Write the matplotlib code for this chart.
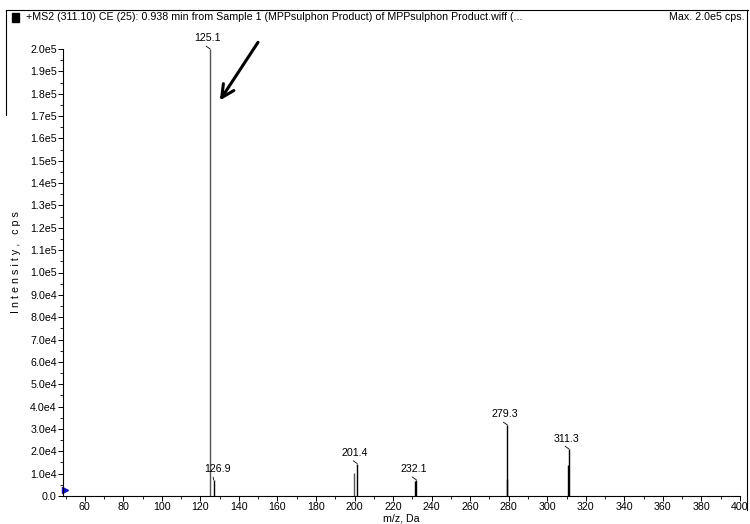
import matplotlib
matplotlib.use("Agg")
import matplotlib.pyplot as plt
from matplotlib.lines import Line2D
from matplotlib.patches import Rectangle
from matplotlib.ticker import MultipleLocator, FixedLocator, FixedFormatter

plt.rcParams["font.family"] = ["Liberation Sans", "DejaVu Sans"]

# peak list (m/z, intensity in cps)
mz = [125.1, 126.9, 199.9, 201.4, 231.6, 232.1, 278.9, 279.3, 311.0, 311.3]
intensity = [2.0e5, 7.2e3, 1.04e4, 1.45e4, 6.8e3, 7.2e3, 7.5e3, 3.18e4, 1.4e4, 2.1e4]
peak_colors = ["#555555", "black", "#555555", "black", "black", "black",
               "black", "black", "black", "black"]

labels = ["125.1", "126.9", "201.4", "232.1", "279.3", "311.3"]
label_mz = [125.1, 126.9, 201.4, 232.1, 279.3, 311.3]
label_int = [2.0e5, 7.2e3, 1.45e4, 7.2e3, 3.18e4, 2.1e4]

ytick_vals = [i * 1e4 for i in range(21)]
ytick_labels = ["0.0"] + ["%.1fe4" % i for i in range(1, 10)] + \
    ["%.1fe5" % (i / 10) for i in range(10, 21)]

title = "+MS2 (311.10) CE (25): 0.938 min from Sample 1 (MPPsulphon Product) of MPPsulphon Product.wiff (..."
fs = 7.7

fig = plt.figure(figsize=(7.5, 5.24), dpi=100)
ax = fig.add_axes([63 / 750, 1 - 496 / 524, 677 / 750, 447 / 524])

ax.vlines(mz, 0, intensity, colors=peak_colors, lw=1.0)

for lab, x, y in zip(labels, label_mz, label_int):
    dx = 3 if lab == "126.9" else -2
    ax.annotate(lab, xy=(x, y), xytext=(dx, 4), textcoords="offset points",
                ha="center", va="bottom", fontsize=fs, annotation_clip=False,
                arrowprops=dict(arrowstyle="-", lw=0.6, color="black",
                                shrinkA=0, shrinkB=0, relpos=(0.3, 0.0)))

# precursor marker at the axis edge
ax.plot([49.6], [2.5e3], marker=">", color="#1010c0", ms=4, clip_on=False)

# hand-drawn style arrow pointing at base peak
ax.annotate("", xy=(130.1, 1.77e5), xytext=(149.9, 2.03e5),
            annotation_clip=False,
            arrowprops=dict(arrowstyle="->,head_length=0.9,head_width=0.45",
                            lw=2.2, color="black", shrinkA=0, shrinkB=0))

ax.set_xlim(48.7, 400)
ax.set_ylim(0, 2.0e5)
ax.xaxis.set_major_locator(FixedLocator(list(range(60, 401, 20))))
ax.xaxis.set_minor_locator(MultipleLocator(10))
ax.yaxis.set_major_locator(FixedLocator(ytick_vals))
ax.yaxis.set_major_formatter(FixedFormatter(ytick_labels))
ax.yaxis.set_minor_locator(MultipleLocator(5e3))
ax.tick_params(which="major", direction="out", length=3.5, width=0.7,
               labelsize=fs, pad=1)
ax.tick_params(which="minor", direction="out", length=2, width=0.6)
for s in ["top", "right"]:
    ax.spines[s].set_visible(False)
for s in ["left", "bottom"]:
    ax.spines[s].set_linewidth(0.8)

ax.set_xlabel("m/z, Da", fontsize=fs, labelpad=1)
fig.text(16 / 750, 1 - 262 / 524, "I n t e n s i t y ,   c p s", rotation=90,
         ha="center", va="center", fontsize=fs)

# header frame
fig.add_artist(Line2D([6 / 750, 748 / 750], [1 - 10 / 524, 1 - 10 / 524],
                      color="black", lw=0.8))
fig.add_artist(Line2D([6 / 750, 6 / 750], [1 - 10 / 524, 1 - 115 / 524],
                      color="black", lw=0.8))
fig.add_artist(Line2D([747 / 750, 747 / 750], [1 - 10 / 524, 1 - 510 / 524],
                      color="black", lw=0.8))
fig.add_artist(Rectangle((12 / 750, 1 - 22 / 524), 7 / 750, 9 / 524,
                         transform=fig.transFigure, color="black"))
fig.text(26 / 750, 1 - 16.5 / 524, title, ha="left", va="center", fontsize=fs)
fig.text(745 / 750, 1 - 16.5 / 524, "Max. 2.0e5 cps.", ha="right", va="center",
         fontsize=fs)

fig.savefig("out.png", dpi=100)
